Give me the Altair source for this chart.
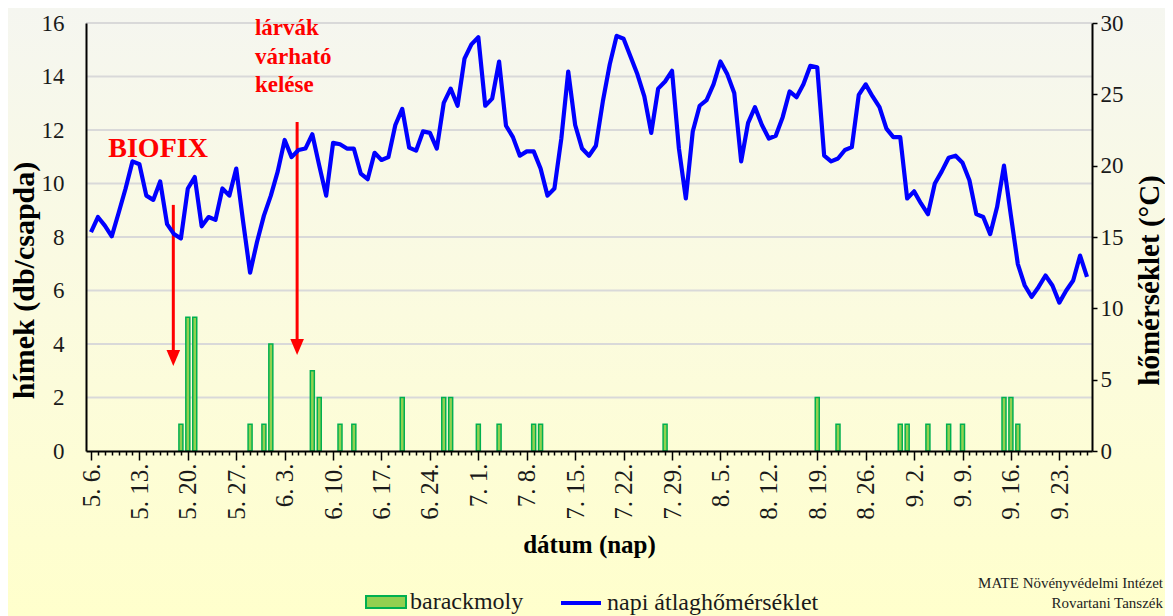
import json
import altair as alt
import pandas as pd

SERIF = "Liberation Serif"
W, H = 1006, 428

# ---- data -------------------------------------------------------------
# day index 0 = 5. 6. ... 144 = 9. 27.
tick_labels = ["5. 6.", "5. 13.", "5. 20.", "5. 27.", "6. 3.", "6. 10.", "6. 17.",
               "6. 24.", "7. 1.", "7. 8.", "7. 15.", "7. 22.", "7. 29.", "8. 5.",
               "8. 12.", "8. 19.", "8. 26.", "9. 2.", "9. 9.", "9. 16.", "9. 23."]

temp_values = [15.35, 16.4, 15.8, 15.05, 16.7, 18.4, 20.3, 20.1, 17.9, 17.6,
               18.9, 15.9, 15.2, 14.9, 18.4, 19.2, 15.75, 16.4, 16.2, 18.4,
               17.9, 19.8, 16.05, 12.5, 14.65, 16.5, 17.9, 19.6, 21.8, 20.6,
               21.1, 21.2, 22.2, 20.0, 17.9, 21.6, 21.5,
               21.2, 21.2, 19.45,
               19.05, 20.9, 20.4, 20.6, 22.85, 23.98, 21.26, 21.05, 22.4, 22.3,
               21.2, 24.4, 25.4, 24.2, 27.5, 28.5, 29.0, 24.2, 24.7, 27.3,
               22.8, 22.0, 20.7, 21.0, 21.0, 19.8, 17.9, 18.4, 21.9, 26.6,
               22.85, 21.2, 20.7,
               21.4, 24.5, 27.1, 29.1, 28.9, 27.65, 26.4,
               24.85, 22.3, 25.4, 25.9, 26.65, 21.2, 17.7, 22.4, 24.2, 24.6,
               25.7, 27.3, 26.4, 25.1, 20.3, 23.0, 24.1, 22.85, 21.9, 22.1,
               23.4, 25.2, 24.8, 25.7, 27.0, 26.9, 20.7, 20.3, 20.5,
               21.1, 21.3, 24.96, 25.7, 24.85, 24.1, 22.6, 22.0, 22.0, 17.7,
               18.2, 17.35, 16.6, 18.75, 19.6, 20.55, 20.7, 20.2, 18.98, 16.6,
               16.4, 15.2, 17.1, 20.0, 16.5, 13.1, 11.6, 10.8, 11.5, 12.3,
               11.6, 10.4, 11.25, 11.95, 13.7, 12.2]
temp_days = list(range(len(temp_values)))

bar_days = [13, 14, 15, 23, 25, 26, 32, 33, 36, 38, 45, 51, 52, 56, 59, 64, 65,
            83, 105, 108, 117, 118, 121, 124, 126, 132, 133, 134]
bar_counts = [1, 5, 5, 1, 1, 4, 3, 2, 1, 1, 2, 2, 2, 1, 1, 1, 1,
              1, 2, 1, 1, 1, 1, 1, 1, 2, 2, 1]

left_ticks = [0, 2, 4, 6, 8, 10, 12, 14, 16]
right_ticks = [0, 5, 10, 15, 20, 25, 30]
grid_values = [2, 4, 6, 8, 10, 12, 14, 16]

bar_name = "barackmoly"
line_name = "napi átlaghőmérséklet"

# annotations (day, value on left scale)
arrow_days = [11.9, 29.8]
arrow_tops = [9.2, 12.3]
arrow_heads = [3.48, 3.89]

biofix_day, biofix_v = [2.5], [10.99]
larva_day, larva_v = [23.7], [15.55]

# ---- frames -----------------------------------------------------------
bar_df = pd.DataFrame({"day": bar_days, "v": bar_counts, "series": bar_name})
temp_df = pd.DataFrame({"day": temp_days, "t": temp_values, "series2": line_name})
grid_df = pd.DataFrame({"v": grid_values})
arrow_df = pd.DataFrame({"day": arrow_days, "v": arrow_tops, "v2": arrow_heads})
head_df = pd.DataFrame({"day": arrow_days, "v": arrow_heads})
biofix_df = pd.DataFrame({"day": biofix_day, "v": biofix_v, "txt": ["BIOFIX"]})
larva_df = pd.DataFrame({"day": larva_day, "v": larva_v,
                         "txt": [["lárvák", "várható", "kelése"]]})

# ---- scales & axes ----------------------------------------------------
label_expr = ("datum.value % 7 === 0 ? " + json.dumps(tick_labels) +
              "[datum.value / 7] : ''")

x_axis = alt.Axis(
    values=list(range(145)), labelExpr=label_expr, labelAngle=270,
    labelAlign="right", labelBaseline="middle", labelFont=SERIF,
    labelFontSize=25, labelColor="#1a1a1a", labelPadding=3,
    labelOverlap=False, labelFlush=False, labelBound=False,
    tickSize={"condition": {"test": "datum.value % 7 === 0", "value": 9}, "value": 4},
    tickColor="black", tickWidth=1.5, domainColor="black", domainWidth=2,
    grid=False, zindex=1,
    title="dátum (nap)", titleFontSize=25, titleFontWeight="bold",
    titleColor="black", titleY=101, titleBaseline="alphabetic",
)
x_scale = alt.Scale(domain=[0, 144], nice=False, zero=False)
X = alt.X("day:Q", scale=x_scale, axis=x_axis)

left_axis = alt.Axis(
    orient="left", values=left_ticks, grid=False, ticks=False, labelPadding=22,
    labelFont=SERIF, labelFontSize=23, labelColor="#1a1a1a",
    domainColor="black", domainWidth=2, zindex=1,
    title="hímek (db/csapda)", titleFontSize=30,
    titleFontWeight="bold", titleColor="black", titleAngle=270,
    titleX=-62, titleY=257, titleAlign="center", titleBaseline="middle",
)
left_scale = alt.Scale(domain=[0, 16], nice=False, zero=True)
YL = alt.Y("v:Q", scale=left_scale, axis=left_axis)

right_axis = alt.Axis(
    orient="right", values=right_ticks, grid=False, tickSize=5, tickColor="black",
    tickWidth=1.5, labelPadding=3, labelFont=SERIF,
    labelFontSize=23, labelColor="#1a1a1a", domainColor="black", domainWidth=2,
    zindex=1,
    title="hőmérséklet (°C)", titleFontSize=29,
    titleFontWeight="bold", titleColor="black", titleAngle=270,
    titleX=57, titleY=257, titleAlign="center", titleBaseline="middle",
)
right_scale = alt.Scale(domain=[0, 30], nice=False, zero=True)

# ---- layers -----------------------------------------------------------
bg = alt.Chart(alt.Data(values=[{"k": 1}])).mark_rect(
    color=alt.LinearGradient(
        gradient="linear",
        stops=[alt.GradientStop(color="#F5F6F0", offset=0),
               alt.GradientStop(color="#FBFBDF", offset=0.5),
               alt.GradientStop(color="#FFFFCC", offset=1)],
        x1=0, x2=0, y1=0, y2=1),
).encode(x=alt.value(-78), x2=alt.value(W + 73), y=alt.value(-15), y2=alt.value(H + 165))

grid = alt.Chart(grid_df).mark_rule(color="#D9D9D9", strokeWidth=2).encode(
    y=YL, x=alt.value(0), x2=alt.value(W))

bars = alt.Chart(bar_df).mark_bar(size=4, stroke="#00B050", strokeWidth=1.5).encode(
    x=X, y=YL,
    fill=alt.Fill("series:N",
                  scale=alt.Scale(domain=[bar_name], range=["#92D050"]),
                  legend=alt.Legend(orient="none", legendX=279, legendY=558,
                                    title=None, padding=0,
                                    symbolType="M-1,-0.3H1V0.3H-1Z", symbolSize=1600,
                                    symbolStrokeColor="#00B050", symbolStrokeWidth=2,
                                    symbolOpacity=1, labelLimit=0,
                                    labelFontSize=24,
                                    labelColor="#1a1a1a", labelOffset=3)),
)

arrows = alt.Chart(arrow_df).mark_rule(color="#FF0000", strokeWidth=3).encode(
    x=X, y=YL, y2=alt.Y2("v2:Q"))
heads = alt.Chart(head_df).mark_point(
    shape="M-0.85,-1L0.85,-1L0,1Z", size=256, filled=True, color="#FF0000",
    opacity=1, strokeWidth=0).encode(x=X, y=YL)

biofix = alt.Chart(biofix_df).mark_text(
    font=SERIF, fontSize=28, fontWeight="bold", color="#FF0000",
    align="left", baseline="alphabetic").encode(x=X, y=YL, text="txt")
larva = alt.Chart(larva_df).mark_text(
    font=SERIF, fontSize=23, fontWeight="bold", color="#FF0000",
    align="left", baseline="alphabetic", lineHeight=28.5).encode(x=X, y=YL, text="txt")

left_layer = alt.layer(grid, bars, arrows, heads, biofix, larva)

line = alt.Chart(temp_df).mark_line(strokeWidth=4.2, strokeJoin="round").encode(
    x=X,
    y=alt.Y("t:Q", scale=right_scale, axis=right_axis),
    stroke=alt.Stroke("series2:N",
                      scale=alt.Scale(domain=[line_name], range=["#0000FF"]),
                      legend=alt.Legend(orient="none", legendX=473, legendY=558,
                                        title=None, padding=0,
                                        symbolType="stroke", symbolSize=1600,
                                        symbolStrokeWidth=4, labelLimit=0,
                                        labelFontSize=24,
                                        labelColor="#1a1a1a", labelOffset=4)),
)

credit = alt.Chart(alt.Data(values=[{"k": 1}])).mark_text(
    font=SERIF, fontSize=15, color="#222222", align="right", baseline="alphabetic",
    lineHeight=20,
).encode(x=alt.value(W + 71), y=alt.value(565),
         text=alt.value(["MATE Növényvédelmi Intézet", "Rovartani Tanszék"]))

chart = alt.layer(bg, left_layer, line, credit).resolve_scale(
    y="independent", fill="independent", stroke="independent"
).properties(
    width=W, height=H,
    autosize=alt.AutoSizeParams(type="none"),
    padding={"left": 78, "top": 15, "right": 73, "bottom": 165},
    background="#FFFFCC",
).configure_view(stroke=None).configure_axis(
    titleFont=SERIF, labelFont=SERIF
).configure_legend(labelFont=SERIF).configure_text(font=SERIF)

chart.save("out.html", embed_options={"renderer": "svg", "actions": False})
